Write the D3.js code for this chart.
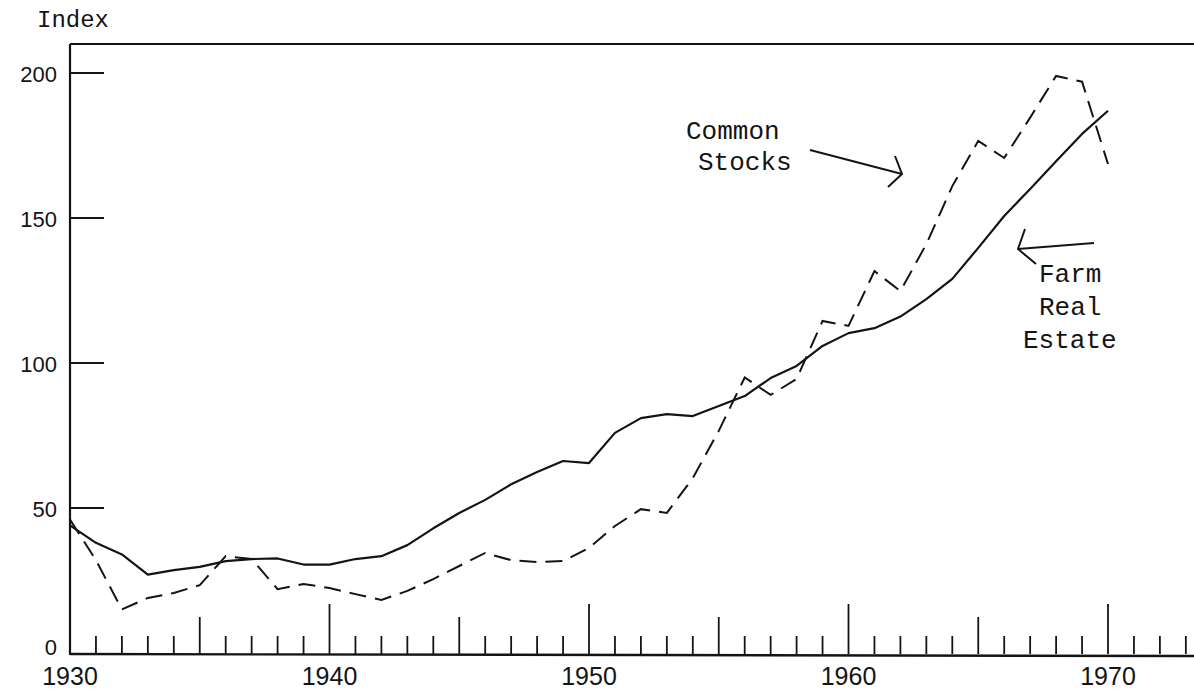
<!DOCTYPE html>
<html>
<head>
<meta charset="utf-8">
<script src="https://cdn.jsdelivr.net/npm/d3@7"></script>
<style>
  html, body { margin: 0; padding: 0; background: #fff; }
  svg { display: block; }
</style>
</head>
<body>
<svg id="chart" width="1194" height="693"></svg>
<script>
// ---- data ----
const years = d3.range(1930, 1971);
const farmRealEstate = [44, 38, 34, 27, 28.6, 29.7, 31.7, 32.4, 32.6, 30.5, 30.5,
  32.4, 33.4, 37.2, 43, 48.3, 52.8, 58.2, 62.4, 66.2, 65.5,
  75.9, 81, 82.4, 81.7, 85.2, 88.6, 94.8, 99, 105.9, 110.3,
  112, 116, 122, 129, 139.7, 150.7, 160, 169.6, 179, 187];
const commonStocks = [46, 32, 15, 19, 20.7, 23.4, 33.4, 32.4, 22, 23.8, 22.4,
  20.3, 18.3, 21.4, 25.5, 30, 34.5, 32, 31.4, 31.7, 36.2,
  43.8, 49.6, 48.3, 60.3, 76.6, 95, 89, 94.5, 114.5, 112.8,
  131.7, 124.8, 141, 161, 176.6, 170.7, 184.6, 199, 197, 168.6];
const yTicks = [0, 50, 100, 150, 200];
const xLabels = [1930, 1940, 1950, 1960, 1970];
const xTickYears = d3.range(1930, 1974);

const svg = d3.select("#chart");
const ink = "#141414";

const x = d3.scaleLinear().domain([1930, 1970]).range([70, 1108]);
const y = d3.scaleLinear().domain([0, 200]).range([653, 73]);

const plotRight = 1194;
const plotTop = 44;

// frame: left axis, top line, bottom axis
svg.append("line").attr("x1", x(1930)).attr("x2", x(1930))
  .attr("y1", plotTop).attr("y2", y(0) + 2)
  .attr("stroke", ink).attr("stroke-width", 2.2);
svg.append("line").attr("x1", x(1930)).attr("x2", plotRight)
  .attr("y1", plotTop).attr("y2", plotTop)
  .attr("stroke", ink).attr("stroke-width", 2.2);
svg.append("line").attr("x1", x(1930)).attr("x2", plotRight)
  .attr("y1", y(0) + 1).attr("y2", y(0) + 3)
  .attr("stroke", ink).attr("stroke-width", 2.4);

// x ticks (inward, upward)
svg.append("g").selectAll("line").data(xTickYears).join("line")
  .attr("x1", d => x(d)).attr("x2", d => x(d))
  .attr("y1", y(0) + 1)
  .attr("y2", d => y(0) + 1 - (d % 10 === 0 ? 50 : d % 5 === 0 ? 37 : 18))
  .attr("stroke", ink).attr("stroke-width", 1.8);

// x labels
svg.append("g").selectAll("text").data(xLabels).join("text")
  .attr("x", d => x(d)).attr("y", 685)
  .attr("text-anchor", "middle")
  .attr("font-family", "Liberation Sans, Arial, sans-serif")
  .attr("font-size", 25).attr("fill", ink)
  .text(d => d);

// y ticks (inward)
svg.append("g").selectAll("line").data(yTicks.filter(d => d > 0)).join("line")
  .attr("x1", x(1930)).attr("x2", x(1930) + 34)
  .attr("y1", d => y(d)).attr("y2", d => y(d))
  .attr("stroke", ink).attr("stroke-width", 2);

// y labels
svg.append("g").selectAll("text").data(yTicks).join("text")
  .attr("x", 57).attr("y", d => d === 0 ? 655 : y(d) + 9)
  .attr("text-anchor", "end")
  .attr("font-family", "Liberation Sans, Arial, sans-serif")
  .attr("font-size", 22).attr("fill", ink)
  .text(d => d);

// axis title
svg.append("text").attr("x", 37).attr("y", 27)
  .attr("font-family", "Liberation Mono, Courier New, monospace")
  .attr("font-size", 24).attr("fill", ink)
  .text("Index");

// lines
const line = d3.line().x((d, i) => x(years[i])).y(d => y(d));

svg.append("path").datum(farmRealEstate)
  .attr("d", line).attr("fill", "none")
  .attr("stroke", ink).attr("stroke-width", 2.2)
  .attr("stroke-linejoin", "round");

svg.append("path").datum(commonStocks)
  .attr("d", line).attr("fill", "none")
  .attr("stroke", ink).attr("stroke-width", 2)
  .attr("stroke-dasharray", "17,9");

// annotations
const mono = "Liberation Mono, Courier New, monospace";
function label(txt, xx, yy) {
  svg.append("text").attr("x", xx).attr("y", yy)
    .attr("font-family", mono).attr("font-size", 26).attr("fill", ink)
    .text(txt);
}
label("Common", 686, 139);
label("Stocks", 698, 170);
label("Farm", 1039, 282);
label("Real", 1039, 315);
label("Estate", 1023, 348);

// arrows
const arrowPaths = [
  [[810, 150], [902, 174]],
  [[895, 156], [902, 174], [888, 187]],
  [[1094, 243], [1018, 249]],
  [[1025, 229], [1018, 249], [1036, 264]]
];
svg.append("g").selectAll("path").data(arrowPaths).join("path")
  .attr("d", d => d3.line()(d))
  .attr("fill", "none").attr("stroke", ink).attr("stroke-width", 2);
</script>
</body>
</html>
